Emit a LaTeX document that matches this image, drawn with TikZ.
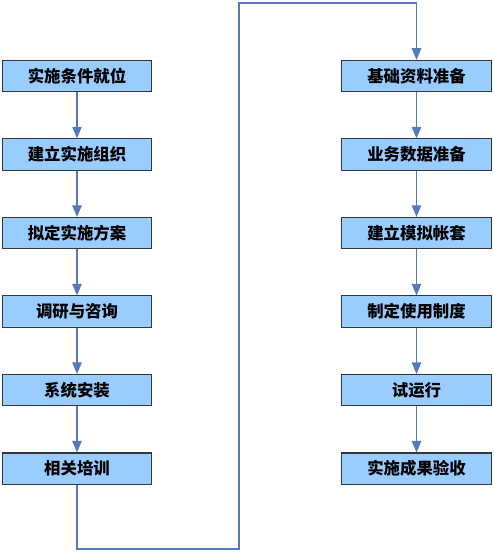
\documentclass[tikz,border=0pt]{standalone}
\usepackage{fontspec}
\setmainfont{Noto Sans CJK SC}
\usepackage{tikz}
\usetikzlibrary{arrows, positioning}
\definecolor{boxfill}{HTML}{99CCFF}
\definecolor{boxline}{HTML}{33363D}
\definecolor{flowline}{HTML}{5479BD}

\begin{document}
\begin{tikzpicture}[x=0.75pt, y=-0.75pt, >=triangle 45]
\tikzstyle{stepbox}=[rectangle, draw=boxline, fill=boxfill, line width=0.8pt, minimum width=112pt, minimum height=23.5pt, inner sep=0pt, font=\fontsize{12.3pt}{14pt}\selectfont\bfseries]
\tikzstyle{flow}=[draw=flowline, line width=1pt]
    \useasboundingbox (0,0) rectangle (493,552);
    % left column
    \node (prep) [stepbox] at (77,76) {实施条件就位};
    \node (team) [stepbox, below=34.6pt of prep] {建立实施组织};
    \node (plan) [stepbox, below=34.6pt of team] {拟定实施方案};
    \node (survey) [stepbox, below=34.6pt of plan] {调研与咨询};
    \node (install) [stepbox, below=34.6pt of survey] {系统安装};
    \node (train) [stepbox, below=34.6pt of install] {相关培训};

    % right column
    \node (basedata) [stepbox] at (416.5,76) {基础资料准备};
    \node (bizdata) [stepbox, below=34.6pt of basedata] {业务数据准备};
    \node (mockbook) [stepbox, below=34.6pt of bizdata] {建立模拟帐套};
    \node (rules) [stepbox, below=34.6pt of mockbook] {制定使用制度};
    \node (trial) [stepbox, below=34.6pt of rules] {试运行};
    \node (accept) [stepbox, below=34.6pt of trial] {实施成果验收};

    \coordinate (lowturn) at (239,549);
    \coordinate (highturn) at (239,3);

    \draw[flow, ->] (prep) -- (team);
    \draw[flow, ->] (team) -- (plan);
    \draw[flow, ->] (plan) -- (survey);
    \draw[flow, ->] (survey) -- (install);
    \draw[flow, ->] (install) -- (train);
    \draw[flow, ->] (train) |- (lowturn) -- (highturn) -| (basedata);
    \draw[flow, ->] (basedata) -- (bizdata);
    \draw[flow, ->] (bizdata) -- (mockbook);
    \draw[flow, ->] (mockbook) -- (rules);
    \draw[flow, ->] (rules) -- (trial);
    \draw[flow, ->] (trial) -- (accept);
\end{tikzpicture}
\end{document}
